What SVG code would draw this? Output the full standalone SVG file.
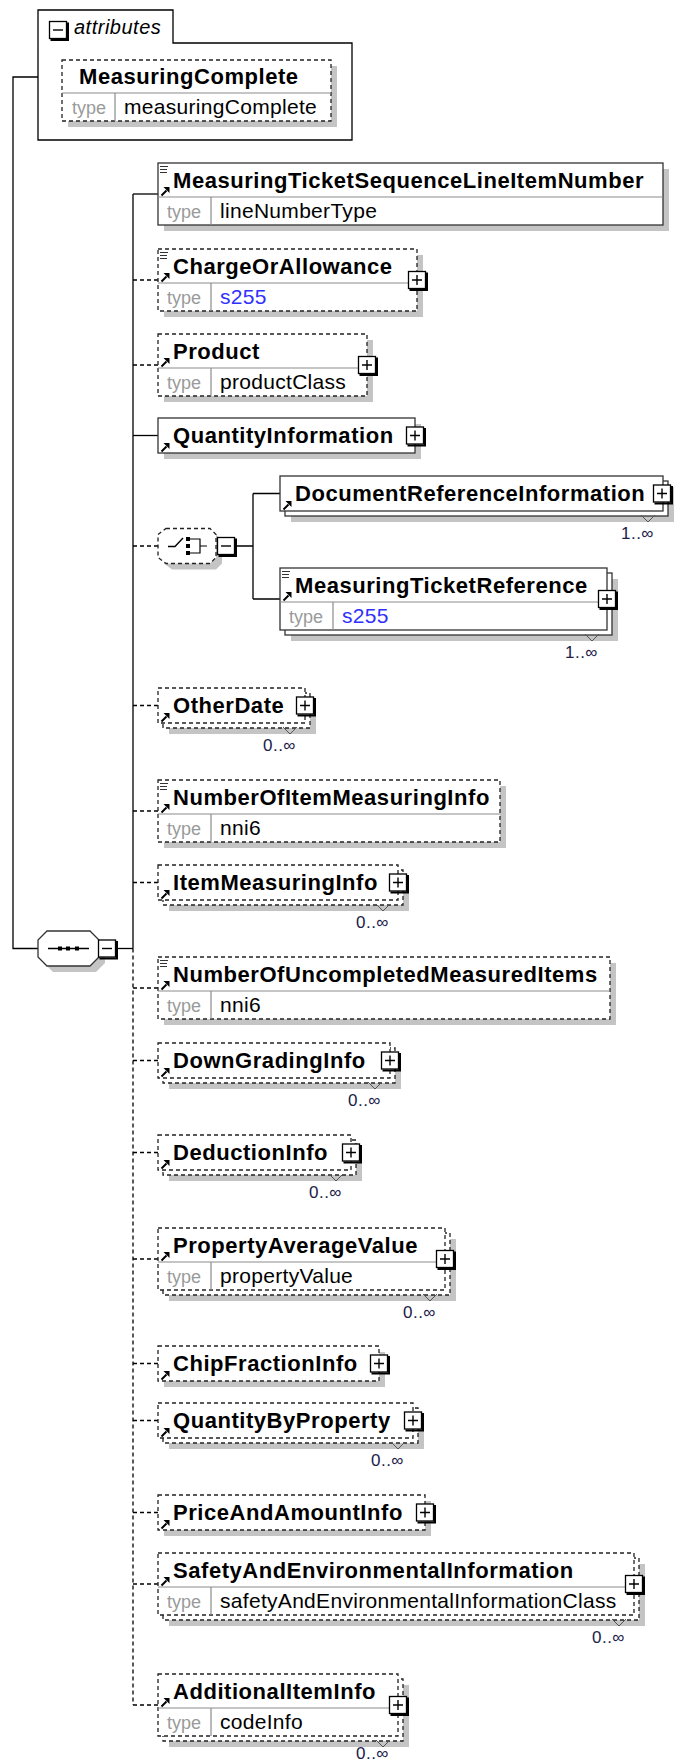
<svg xmlns="http://www.w3.org/2000/svg" xmlns:xlink="http://www.w3.org/1999/xlink" width="677" height="1762" viewBox="0 0 677 1762">
<style>
.sb{fill:#fff;stroke:#333;stroke-width:1.3}
.db{fill:#fff;stroke:#222;stroke-width:1.3;stroke-dasharray:4 3}
.sh{fill:#c4c4c4}
.dv{stroke:#8c8c8c;stroke-width:1.2;fill:none}
.nm{font-family:"Liberation Sans",Arial,sans-serif;font-weight:bold;font-size:22px;letter-spacing:0.55px;fill:#000}
.tl{font-family:"Liberation Sans",Arial,sans-serif;font-size:18px;fill:#9a9a9a}
.tv{font-family:"Liberation Sans",Arial,sans-serif;font-size:21px;letter-spacing:0.3px;fill:#000}
.bl{fill:#3030ff}
.oc{font-family:"Liberation Sans",Arial,sans-serif;font-size:17px;letter-spacing:0.5px;fill:#202048;text-anchor:end}
.vm{fill:none;stroke:#555;stroke-width:1}
.cs{fill:none;stroke:#000;stroke-width:1.3}
.cd{fill:none;stroke:#000;stroke-width:1.3;stroke-dasharray:4 3}
.at{font-family:"Liberation Sans",Arial,sans-serif;font-style:italic;font-size:20px;letter-spacing:0.5px;fill:#000}
</style>
<defs>
<g id="plus"><path d="M1.5 19 H19 V1.5" fill="none" stroke="#000" stroke-width="2"/><rect x="0.5" y="0.5" width="17" height="17" fill="#fff" stroke="#000" stroke-width="1.3"/><path d="M4 9 H14 M9 4 V14" stroke="#000" stroke-width="1.4"/></g>
<g id="minus"><path d="M1.5 19 H19 V1.5" fill="none" stroke="#000" stroke-width="2"/><rect x="0.5" y="0.5" width="17" height="17" fill="#fff" stroke="#000" stroke-width="1.3"/><path d="M4 9 H14" stroke="#000" stroke-width="1.4"/></g>
<g id="arr"><path d="M1.5 -1.5 L6.5 -6.5" stroke="#000" stroke-width="2"/><path d="M3.5 -10 H9.5 V-4 Z" fill="#000"/></g>
<g id="doc"><path d="M0 0.5 H8 M0 3.5 H7 M0 6.5 H7" stroke="#333" stroke-width="1.1"/></g>
</defs>

<g id="connectors">
<path class="cs" d="M38 77 H13 V948.5 H38"/>
<path class="cs" d="M117 948.5 H133"/>
<path class="cs" d="M133 194 V948.5"/>
<path class="cd" d="M133 948.5 V1705"/>
<path class="cs" d="M133 194 H158"/>
<path class="cd" d="M133 280 H158"/>
<path class="cd" d="M133 365 H158"/>
<path class="cs" d="M133 435.5 H158"/>
<path class="cd" d="M133 546 H158"/>
<path class="cs" d="M235 546 H253 M253 493.5 V599 M253 493.5 H280 M253 599 H280"/>
<path class="cd" d="M133 705.5 H158"/>
<path class="cd" d="M133 811 H158"/>
<path class="cd" d="M133 882.5 H158"/>
<path class="cd" d="M133 988 H158"/>
<path class="cd" d="M133 1060.5 H158"/>
<path class="cd" d="M133 1152.5 H158"/>
<path class="cd" d="M133 1259 H158"/>
<path class="cd" d="M133 1363.5 H158"/>
<path class="cd" d="M133 1420.5 H158"/>
<path class="cd" d="M133 1512.5 H158"/>
<path class="cd" d="M133 1584 H158"/>
<path class="cd" d="M133 1705 H158"/>
</g>

<g id="attributes">
<path d="M38 140 V10 H173 V43 H352 V140 Z" fill="#fff" stroke="#000" stroke-width="1.3"/>
<use xlink:href="#minus" x="49" y="21"/>
<text class="at" x="74" y="34">attributes</text>
</g>

<g id="MeasuringComplete">
<rect class="sh" x="68" y="66" width="269" height="61"/>
<rect class="db" x="62" y="60" width="269" height="61"/>
<path class="dv" d="M62 93 H331 M115 93 V121"/>
<text class="nm" x="79" y="84">MeasuringComplete</text>
<text class="tl" x="72" y="114">type</text>
<text class="tv" x="124" y="114">measuringComplete</text>
</g>

<g id="sequence">
<polygon points="53,937 96,937 105,946 105,963 96,972 53,972 44,963 44,946" fill="#c4c4c4"/>
<polygon points="47,931 90,931 99,940 99,957 90,966 47,966 38,957 38,940" fill="#fff" stroke="#333" stroke-width="1.3"/>
<path d="M48 948.5 H89" stroke="#000" stroke-width="1.3"/>
<rect x="58" y="946.5" width="4" height="4" fill="#000"/>
<rect x="66" y="946.5" width="4" height="4" fill="#000"/>
<rect x="75" y="946.5" width="4" height="4" fill="#000"/>
<use xlink:href="#minus" x="98" y="939.5"/>
</g>

<g id="MeasuringTicketSequenceLineItemNumber">
<rect class="sh" x="164" y="169" width="505" height="62"/>
<rect class="sb" x="158" y="163" width="505" height="62"/>
<path class="dv" d="M158 197 H663 M211 197 V225"/>
<use xlink:href="#doc" x="160" y="166"/>
<use xlink:href="#arr" x="160" y="197"/>
<text class="nm" x="173" y="188">MeasuringTicketSequenceLineItemNumber</text>
<text class="tl" x="167" y="218">type</text>
<text class="tv" x="220" y="218">lineNumberType</text>
</g>

<g id="ChargeOrAllowance">
<rect class="sh" x="164" y="255" width="259" height="62"/>
<rect class="db" x="158" y="249" width="259" height="62"/>
<path class="dv" d="M158 283 H417 M211 283 V311"/>
<use xlink:href="#doc" x="160" y="252"/>
<use xlink:href="#arr" x="160" y="283"/>
<text class="nm" x="173" y="274">ChargeOrAllowance</text>
<text class="tl" x="167" y="304">type</text>
<text class="tv bl" x="220" y="304">s255</text>
<use xlink:href="#plus" x="408" y="271"/>
</g>

<g id="Product">
<rect class="sh" x="164" y="340" width="209" height="62"/>
<rect class="db" x="158" y="334" width="209" height="62"/>
<path class="dv" d="M158 368 H367 M211 368 V396"/>
<use xlink:href="#arr" x="160" y="368"/>
<text class="nm" x="173" y="359">Product</text>
<text class="tl" x="167" y="389">type</text>
<text class="tv" x="220" y="389">productClass</text>
<use xlink:href="#plus" x="358" y="356"/>
</g>

<g id="QuantityInformation">
<rect class="sh" x="164" y="424" width="257" height="35"/>
<rect class="sb" x="158" y="418" width="257" height="35"/>
<use xlink:href="#arr" x="160" y="453"/>
<text class="nm" x="173" y="443">QuantityInformation</text>
<use xlink:href="#plus" x="406" y="426.5"/>
</g>

<g id="choice">
<polygon points="172,534.5 216,534.5 222,540.5 222,563.5 216,569.5 172,569.5 164,563.5 164,540.5" fill="#c4c4c4"/>
<polygon points="166,528.5 210,528.5 216,534.5 216,557.5 210,563.5 166,563.5 158,557.5 158,534.5" fill="#fff" stroke="#222" stroke-width="1.3" stroke-dasharray="4 3"/>
<path d="M168 546.5 H175 L183 538" fill="none" stroke="#000" stroke-width="1.4"/>
<rect x="186" y="537" width="4" height="4" fill="#000"/>
<rect x="186" y="544" width="4" height="4" fill="#000"/>
<rect x="186" y="551" width="4" height="4" fill="#000"/>
<path d="M190 539 H200 V553 H190 M200 546 H207" fill="none" stroke="#000" stroke-width="1.2"/>
<use xlink:href="#minus" x="217" y="537"/>
</g>

<g id="DocumentReferenceInformation">
<rect class="sh" x="291" y="487" width="383" height="35"/>
<rect class="sb" x="285" y="481" width="383" height="35"/>
<rect class="sb" x="280" y="476" width="383" height="35"/>
<use xlink:href="#arr" x="282" y="511"/>
<text class="nm" x="295" y="501">DocumentReferenceInformation</text>
<use xlink:href="#plus" x="653" y="484.5"/>
<path class="vm" d="M641 515 L648 522 L655 515"/>
<text class="oc" x="654" y="539">1..∞</text>
</g>

<g id="MeasuringTicketReference">
<rect class="sh" x="291" y="579" width="327" height="62"/>
<rect class="sb" x="285" y="573" width="327" height="62"/>
<rect class="sb" x="280" y="568" width="327" height="62"/>
<path class="dv" d="M280 602 H607 M333 602 V630"/>
<use xlink:href="#doc" x="282" y="571"/>
<use xlink:href="#arr" x="282" y="602"/>
<text class="nm" x="295" y="593">MeasuringTicketReference</text>
<text class="tl" x="289" y="623">type</text>
<text class="tv bl" x="342" y="623">s255</text>
<use xlink:href="#plus" x="598" y="590"/>
<path class="vm" d="M585 634 L592 641 L599 634"/>
<text class="oc" x="598" y="658">1..∞</text>
</g>

<g id="OtherDate">
<rect class="sh" x="169" y="699" width="147" height="35"/>
<rect class="db" x="163" y="693" width="147" height="35"/>
<rect class="db" x="158" y="688" width="147" height="35"/>
<use xlink:href="#arr" x="160" y="723"/>
<text class="nm" x="173" y="713">OtherDate</text>
<use xlink:href="#plus" x="296" y="696.5"/>
<path class="vm" d="M283 727 L290 734 L297 727"/>
<text class="oc" x="296" y="751">0..∞</text>
</g>

<g id="NumberOfItemMeasuringInfo">
<rect class="sh" x="164" y="786" width="342" height="62"/>
<rect class="db" x="158" y="780" width="342" height="62"/>
<path class="dv" d="M158 814 H500 M211 814 V842"/>
<use xlink:href="#doc" x="160" y="783"/>
<use xlink:href="#arr" x="160" y="814"/>
<text class="nm" x="173" y="805">NumberOfItemMeasuringInfo</text>
<text class="tl" x="167" y="835">type</text>
<text class="tv" x="220" y="835">nni6</text>
</g>

<g id="ItemMeasuringInfo">
<rect class="sh" x="169" y="876" width="240" height="35"/>
<rect class="db" x="163" y="870" width="240" height="35"/>
<rect class="db" x="158" y="865" width="240" height="35"/>
<use xlink:href="#arr" x="160" y="900"/>
<text class="nm" x="173" y="890">ItemMeasuringInfo</text>
<use xlink:href="#plus" x="389" y="873.5"/>
<path class="vm" d="M376 904 L383 911 L390 904"/>
<text class="oc" x="389" y="928">0..∞</text>
</g>

<g id="NumberOfUncompletedMeasuredItems">
<rect class="sh" x="164" y="963" width="452" height="62"/>
<rect class="db" x="158" y="957" width="452" height="62"/>
<path class="dv" d="M158 991 H610 M211 991 V1019"/>
<use xlink:href="#doc" x="160" y="960"/>
<use xlink:href="#arr" x="160" y="991"/>
<text class="nm" x="173" y="982">NumberOfUncompletedMeasuredItems</text>
<text class="tl" x="167" y="1012">type</text>
<text class="tv" x="220" y="1012">nni6</text>
</g>

<g id="DownGradingInfo">
<rect class="sh" x="169" y="1054" width="232" height="35"/>
<rect class="db" x="163" y="1048" width="232" height="35"/>
<rect class="db" x="158" y="1043" width="232" height="35"/>
<use xlink:href="#arr" x="160" y="1078"/>
<text class="nm" x="173" y="1068">DownGradingInfo</text>
<use xlink:href="#plus" x="381" y="1051.5"/>
<path class="vm" d="M368 1082 L375 1089 L382 1082"/>
<text class="oc" x="381" y="1106">0..∞</text>
</g>

<g id="DeductionInfo">
<rect class="sh" x="169" y="1146" width="193" height="35"/>
<rect class="db" x="163" y="1140" width="193" height="35"/>
<rect class="db" x="158" y="1135" width="193" height="35"/>
<use xlink:href="#arr" x="160" y="1170"/>
<text class="nm" x="173" y="1160">DeductionInfo</text>
<use xlink:href="#plus" x="342" y="1143.5"/>
<path class="vm" d="M329 1174 L336 1181 L343 1174"/>
<text class="oc" x="342" y="1198">0..∞</text>
</g>

<g id="PropertyAverageValue">
<rect class="sh" x="169" y="1239" width="287" height="62"/>
<rect class="db" x="163" y="1233" width="287" height="62"/>
<rect class="db" x="158" y="1228" width="287" height="62"/>
<path class="dv" d="M158 1262 H445 M211 1262 V1290"/>
<use xlink:href="#arr" x="160" y="1262"/>
<text class="nm" x="173" y="1253">PropertyAverageValue</text>
<text class="tl" x="167" y="1283">type</text>
<text class="tv" x="220" y="1283">propertyValue</text>
<use xlink:href="#plus" x="436" y="1250"/>
<path class="vm" d="M423 1294 L430 1301 L437 1294"/>
<text class="oc" x="436" y="1318">0..∞</text>
</g>

<g id="ChipFractionInfo">
<rect class="sh" x="164" y="1352" width="221" height="35"/>
<rect class="db" x="158" y="1346" width="221" height="35"/>
<use xlink:href="#arr" x="160" y="1381"/>
<text class="nm" x="173" y="1371">ChipFractionInfo</text>
<use xlink:href="#plus" x="370" y="1354.5"/>
</g>

<g id="QuantityByProperty">
<rect class="sh" x="169" y="1414" width="255" height="35"/>
<rect class="db" x="163" y="1408" width="255" height="35"/>
<rect class="db" x="158" y="1403" width="255" height="35"/>
<use xlink:href="#arr" x="160" y="1438"/>
<text class="nm" x="173" y="1428">QuantityByProperty</text>
<use xlink:href="#plus" x="404" y="1411.5"/>
<path class="vm" d="M391 1442 L398 1449 L405 1442"/>
<text class="oc" x="404" y="1466">0..∞</text>
</g>

<g id="PriceAndAmountInfo">
<rect class="sh" x="164" y="1501" width="267" height="35"/>
<rect class="db" x="158" y="1495" width="267" height="35"/>
<use xlink:href="#arr" x="160" y="1530"/>
<text class="nm" x="173" y="1520">PriceAndAmountInfo</text>
<use xlink:href="#plus" x="416" y="1503.5"/>
</g>

<g id="SafetyAndEnvironmentalInformation">
<rect class="sh" x="169" y="1564" width="476" height="62"/>
<rect class="db" x="163" y="1558" width="476" height="62"/>
<rect class="db" x="158" y="1553" width="476" height="62"/>
<path class="dv" d="M158 1587 H634 M211 1587 V1615"/>
<use xlink:href="#arr" x="160" y="1587"/>
<text class="nm" x="173" y="1578">SafetyAndEnvironmentalInformation</text>
<text class="tl" x="167" y="1608">type</text>
<text class="tv" x="220" y="1608">safetyAndEnvironmentalInformationClass</text>
<use xlink:href="#plus" x="625" y="1575"/>
<path class="vm" d="M612 1619 L619 1626 L626 1619"/>
<text class="oc" x="625" y="1643">0..∞</text>
</g>

<g id="AdditionalItemInfo">
<rect class="sh" x="169" y="1685" width="240" height="62"/>
<rect class="db" x="163" y="1679" width="240" height="62"/>
<rect class="db" x="158" y="1674" width="240" height="62"/>
<path class="dv" d="M158 1708 H398 M211 1708 V1736"/>
<use xlink:href="#arr" x="160" y="1708"/>
<text class="nm" x="173" y="1699">AdditionalItemInfo</text>
<text class="tl" x="167" y="1729">type</text>
<text class="tv" x="220" y="1729">codeInfo</text>
<use xlink:href="#plus" x="389" y="1696"/>
<path class="vm" d="M376 1740 L383 1747 L390 1740"/>
<text class="oc" x="389" y="1759">0..∞</text>
</g>
</svg>
